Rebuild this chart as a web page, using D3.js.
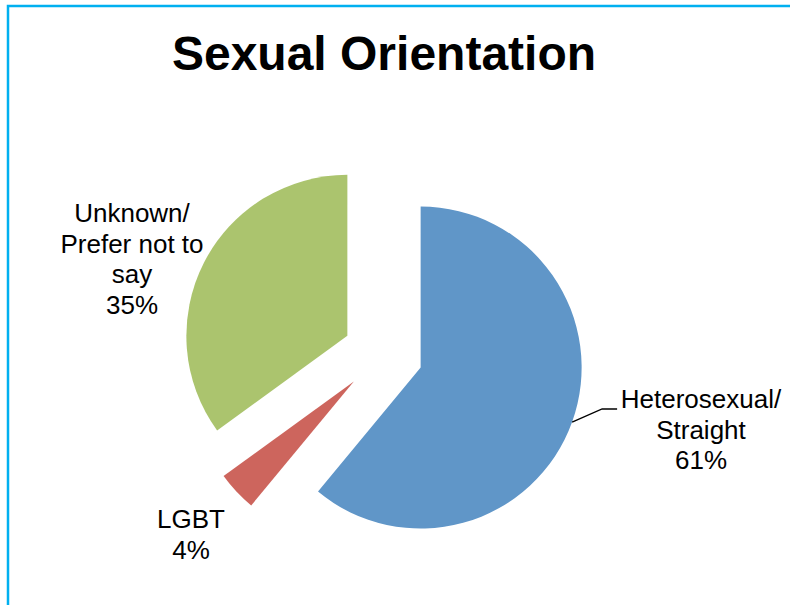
<!DOCTYPE html>
<html>
<head>
<meta charset="utf-8">
<script src="https://cdn.jsdelivr.net/npm/d3@7"></script>
<style>
  html, body { margin: 0; padding: 0; background: #fff; overflow: hidden; }
  svg { display: block; }
  text { font-family: "Liberation Sans", Arial, sans-serif; fill: #000; }
</style>
</head>
<body>
<svg id="chart" width="790" height="605"></svg>
<script>
// Slices, clockwise from 12 o'clock
const categories = ["Heterosexual/ Straight", "LGBT", "Unknown/ Prefer not to say"];
const labelLines = [["Heterosexual/", "Straight"], ["LGBT"], ["Unknown/", "Prefer not to", "say"]];
const values = [61, 4, 35];
const colors = ["#6096C8", "#CD655D", "#ABC46E"];

const W = 790, H = 605;
const cx = 383, cy = 354, radius = 161, explode = 40;
const fontSize = 26, lineGap = 30.5;

// label block anchor: centre x, baseline of first line
const labelAnchor = [[701, 408], [191, 528], [132, 222]];

const svg = d3.select("#chart");

// chart frame
svg.append("rect")
  .attr("x", 8).attr("y", 6)
  .attr("width", W + 20).attr("height", H + 20)
  .attr("fill", "none")
  .attr("stroke", "#00B0F0")
  .attr("stroke-width", 2.5);

svg.append("text")
  .attr("x", 384).attr("y", 70)
  .attr("text-anchor", "middle")
  .attr("font-size", 48)
  .attr("font-weight", "bold")
  .text("Sexual Orientation");

const pie = d3.pie().sort(null).value(d => d)(values);
const arc = d3.arc().innerRadius(0).outerRadius(radius);

const g = svg.append("g").attr("transform", `translate(${cx},${cy})`);

function offset(d) {
  const a = (d.startAngle + d.endAngle) / 2;
  return [explode * Math.sin(a), -explode * Math.cos(a)];
}

g.selectAll("path.slice")
  .data(pie)
  .join("path")
  .attr("class", "slice")
  .attr("d", arc)
  .attr("fill", (d, i) => colors[i])
  .attr("transform", d => { const o = offset(d); return `translate(${o[0]},${o[1]})`; });

// leader line for the large slice
{
  const d = pie[0];
  const a = (d.startAngle + d.endAngle) / 2;
  const o = offset(d);
  const p0 = [cx + o[0] + radius * Math.sin(a), cy + o[1] - radius * Math.cos(a)];
  const anchor = labelAnchor[0];
  const elbow = [p0[0] + 30, anchor[1] + 1];
  const end = [elbow[0] + 15, anchor[1] + 1];
  svg.append("path")
    .attr("d", d3.line()([p0, elbow, end]))
    .attr("fill", "none")
    .attr("stroke", "#000")
    .attr("stroke-width", 1.3);
}

// data labels
pie.forEach((d, i) => {
  const lines = labelLines[i].concat([d3.format(".0f")(values[i]) + "%"]);
  const t = svg.append("text")
    .attr("text-anchor", "middle")
    .attr("font-size", fontSize);
  lines.forEach((s, k) => {
    t.append("tspan")
      .attr("x", labelAnchor[i][0])
      .attr("y", labelAnchor[i][1] + k * lineGap)
      .text(s);
  });
});
</script>
</body>
</html>
